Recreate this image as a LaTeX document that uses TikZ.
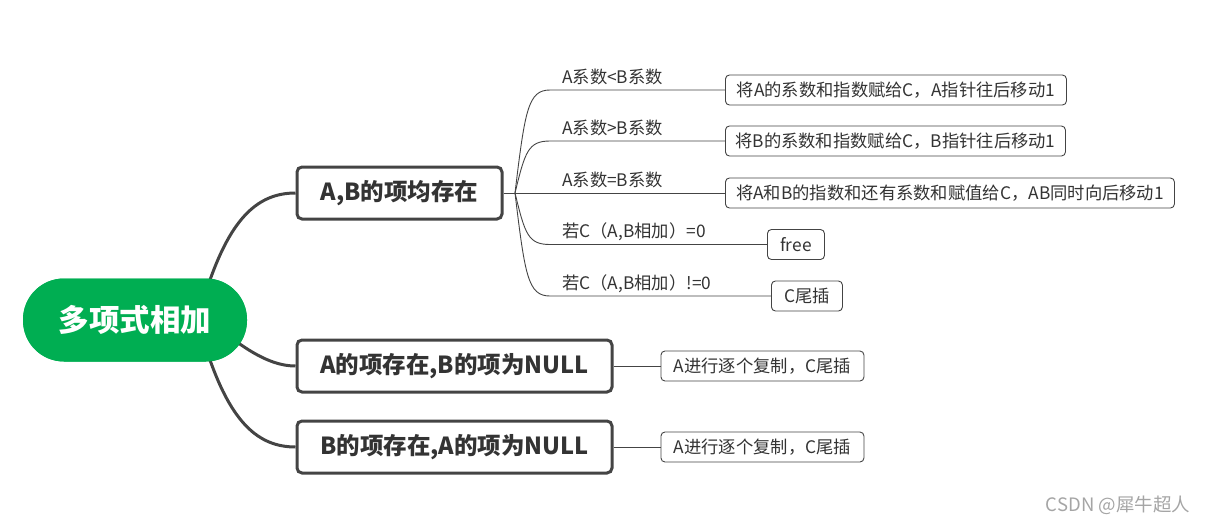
\documentclass[tikz,border=0pt]{standalone}
\usepackage{fontspec}
\setmainfont{Noto Sans CJK SC}
\usepackage{tikz}
\usetikzlibrary{positioning,calc}
\definecolor{rootgreen}{RGB}{0,174,82}
\definecolor{linegray} {RGB}{68,68,68}
\definecolor{txtgray}  {RGB}{51,51,51}
\definecolor{markgray} {RGB}{165,165,165}
\tikzset{
  rootbox/.style ={fill=rootgreen, rounded corners=41pt, text=white,
                   minimum width=224pt, minimum height=83pt, inner sep=0pt,
                   font=\fontsize{30.5}{30.5}\selectfont\bfseries},
  mainbox/.style ={draw=linegray, line width=3pt, rounded corners=5pt,
                   fill=white, text=txtgray, minimum width=#1,
                   minimum height=52pt, inner sep=0pt,
                   font=\fontsize{23.5}{23.5}\selectfont\bfseries},
  mainbox/.default=205pt,
  leafbox/.style ={draw=linegray, line width=0.9pt, rounded corners=4pt,
                   fill=white, text=txtgray, anchor=west, minimum width=#1,
                   minimum height=30pt, inner sep=0pt,
                   font=\fontsize{17.3}{17.3}\selectfont},
  condlbl/.style ={anchor=base west, text=txtgray, inner sep=0pt,
                   font=\fontsize{17.3}{17.3}\selectfont},
  thickln/.style ={draw=linegray, line width=3pt},
  thinln/.style  ={draw=linegray, line width=0.9pt},
}
\begin{document}
\begin{tikzpicture}[x=1pt,y=-1pt]
  \useasboundingbox (0,0) rectangle (1213,525);
  % main branches
  \node[mainbox] (ab) at (399.5,193) {A,B的项均存在};
  \node[mainbox=315pt] (aonly) at (454.5,366) {A的项存在,B的项为NULL};
  \node[mainbox=315pt] (bonly) at (454.5,447) {B的项存在,A的项为NULL};
  \node[rootbox] (root) at (135,320) {};
  \draw[thickln] ($(root.center)+(75,-40)$) .. controls (232,218) and (258,193) .. (ab.west);
  \draw[thickln] ($(root.center)+(102,22)$) .. controls (262,360) and (280,366) .. (aonly.west);
  \draw[thickln] ($(root.center)+(75,40)$) .. controls (232,422) and (258,447) .. (bonly.west);
  \node[rootbox] (roottxt) at (root) {多项式相加};
  % leaves of A,B
  \node[leafbox=341pt] (less) at (725,90)  {将A的系数和指数赋给C，A指针往后移动1};
  \node[leafbox=340pt] (more) at (725,141) {将B的系数和指数赋给C，B指针往后移动1};
  \node[leafbox=449pt] (same) at (725,193) {将A和B的指数和还有系数和赋值给C，AB同时向后移动1};
  \node[leafbox=57pt]  (zero) at (767,244.5) {free};
  \node[leafbox=71pt]  (nonz) at (771,296) {C尾插};
  \coordinate (hub) at (515,193);
  \draw[thinln] (ab.east) -- (hub);
  \draw[thinln] (hub) .. controls (525,110) and (528,90) .. (550,90) -- (less.west);
  \draw[thinln] (hub) .. controls (525,152) and (528,141) .. (550,141) -- (more.west);
  \draw[thinln] (hub) -- (same.west);
  \draw[thinln] (hub) .. controls (525,234) and (528,244.5) .. (550,244.5) -- (zero.west);
  \draw[thinln] (hub) .. controls (525,276) and (528,296) .. (550,296) -- (nonz.west);
  \node[condlbl] (c1) at (562,83)  {A系数<B系数};
  \node[condlbl] (c2) at (562,134) {A系数>B系数};
  \node[condlbl] (c3) at (562,186) {A系数=B系数};
  \node[condlbl] (c4) at (562,237) {若C（A,B相加）=0};
  \node[condlbl] (c5) at (562,289) {若C（A,B相加）!=0};
  % leaves of single lists
  \node[leafbox=203pt, right=47pt of aonly] (acopy) {A进行逐个复制，C尾插};
  \node[leafbox=203pt, right=47pt of bonly] (bcopy) {A进行逐个复制，C尾插};
  \draw[thinln] (aonly.east) -- (acopy.west);
  \draw[thinln] (bonly.east) -- (bcopy.west);
  \node[text=markgray, font=\fontsize{18.5}{18.5}\selectfont] (mark) at (1118,505) {CSDN @犀牛超人};
\end{tikzpicture}
\end{document}
